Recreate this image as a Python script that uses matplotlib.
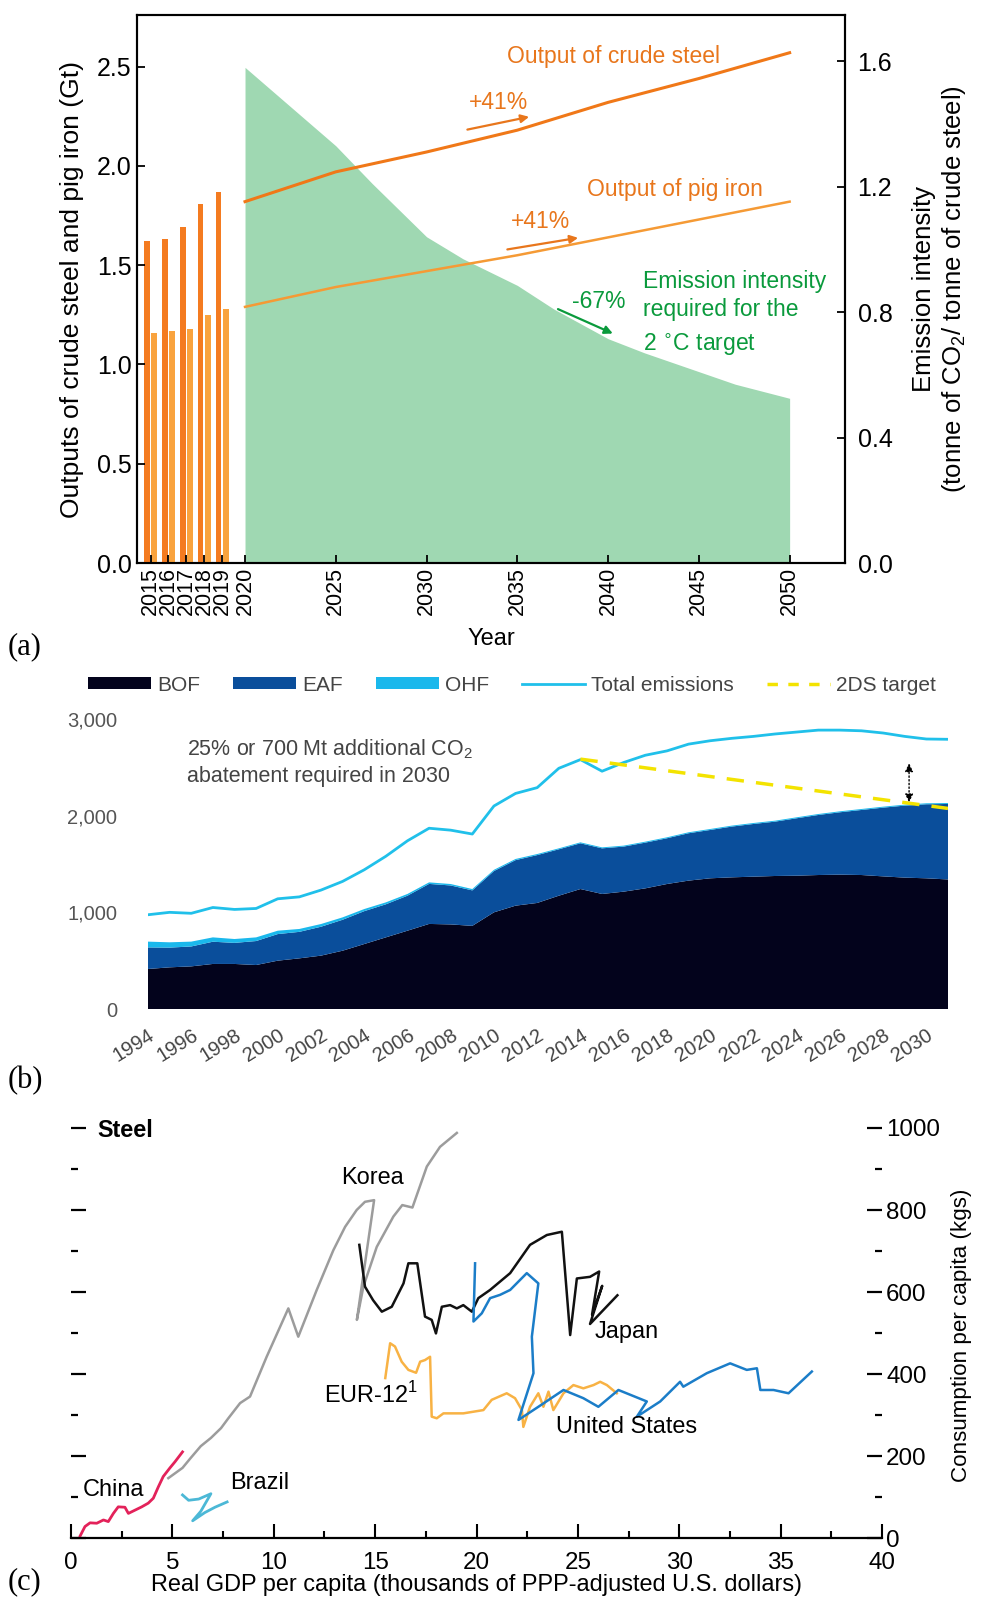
import numpy as np
import matplotlib
matplotlib.use('Agg')
import matplotlib.pyplot as plt
from matplotlib import font_manager
from matplotlib.patches import Patch
from matplotlib.lines import Line2D
from matplotlib.ticker import FuncFormatter

# fonts: condensed face for panel (c) if present
names = {f.name for f in font_manager.fontManager.ttflist}
SANS = 'Liberation Sans'
if 'Liberation Sans Narrow' in names:
    NARROW, nk = 'Liberation Sans Narrow', 1.0
else:
    NARROW, nk = 'Liberation Sans', 0.87
plt.rcParams['font.family'] = [SANS, 'DejaVu Sans']

# ---------------- panel (a) data ----------------
bar_years = [2015, 2016, 2017, 2018, 2019]
steel_hist = [1.62, 1.63, 1.69, 1.81, 1.87]
iron_hist = [1.16, 1.17, 1.18, 1.25, 1.28]
proj_years = [2020, 2025, 2030, 2035, 2040, 2045, 2050]
steel_proj = [1.82, 1.97, 2.07, 2.18, 2.32, 2.44, 2.57]
iron_proj = [1.29, 1.39, 1.47, 1.55, 1.64, 1.73, 1.82]
int_years = [2020, 2022, 2025, 2027, 2030, 2032, 2035, 2037, 2040, 2042, 2045, 2047, 2050]
intensity = [1.58, 1.48, 1.33, 1.21, 1.04, 0.97, 0.885, 0.81, 0.715, 0.67, 0.61, 0.57, 0.525]

# ---------------- panel (b) data ----------------
years_b = list(range(1994, 2032))
bof = [414, 431, 441, 466, 466, 455, 500, 524, 552, 603, 672, 741, 810, 880, 875, 860,
       1000, 1069, 1097, 1172, 1241, 1190, 1214, 1248, 1293, 1328, 1352, 1362, 1369, 1376,
       1379, 1386, 1390, 1386, 1372, 1359, 1352, 1340]
eaf = [223, 204, 206, 230, 218, 248, 275, 274, 299, 320, 340, 342, 362, 414, 403, 367,
       427, 471, 495, 480, 473, 472, 466, 473, 473, 490, 500, 525, 545, 562,
       594, 621, 645, 673, 711, 745, 766, 781]
ohf = [60, 55, 50, 45, 40, 38, 35, 30, 28, 25, 22, 20, 18, 16, 15, 14,
       13, 12, 11, 10, 10, 10, 10, 10, 10, 10, 10, 10, 10, 10,
       10, 10, 10, 10, 10, 10, 10, 10]
total = [975, 1000, 990, 1050, 1030, 1040, 1140, 1160, 1230, 1320, 1440, 1580, 1740, 1870, 1850, 1810,
         2100, 2230, 2290, 2490, 2580, 2460, 2550, 2625, 2670, 2740, 2775, 2800, 2820, 2845,
         2865, 2885, 2885, 2878, 2855, 2820, 2793, 2790]
tds_years = [2014, 2031]
tds_vals = [2585, 2075]
b_labels = ['BOF', 'EAF', 'OHF', 'Total emissions', '2DS target']

# ---------------- panel (c) data ----------------
china_x = [0.45, 0.69, 0.94, 1.27, 1.6, 1.84, 2.09, 2.33, 2.66, 2.83, 3.16, 3.49, 3.81, 4.06, 4.31, 4.55, 4.88, 5.13, 5.5]
china_y = [5, 28, 37, 36, 44, 40, 60, 76, 75, 60, 68, 76, 85, 97, 125, 150, 171, 186, 210]
brazil_x = [5.5, 5.8, 6.3, 6.9, 6.4, 6.0, 6.6, 7.1, 7.7]
brazil_y = [105, 92, 95, 108, 65, 42, 62, 75, 88]
korea_x = [4.8, 5.5, 5.9, 6.4, 6.9, 7.4, 7.76, 8.34, 8.83, 9.65, 10.72, 11.21, 12.12, 12.94, 13.52,
           14.09, 14.5, 14.95, 14.1, 14.42, 15.08, 15.9, 16.34, 16.84, 17.55, 18.2, 19.03]
korea_y = [146, 171, 195, 224, 244, 268, 292, 329, 345, 442, 560, 491, 605, 702, 759,
           800, 820, 824, 532, 613, 710, 784, 812, 806, 906, 954, 988]
japan_x = [14.22, 14.5, 14.9, 15.33, 15.82, 16.4, 16.64, 17.08, 17.46, 17.79, 18.0, 18.29, 18.7, 19.03,
           19.35, 19.77, 20.09, 20.67, 21.66, 22.64, 23.47, 24.21, 24.62, 24.95, 25.6, 26.05, 25.7,
           26.2, 25.6, 26.95]
japan_y = [715, 613, 580, 552, 564, 621, 670, 670, 540, 532, 499, 564, 568, 560,
           568, 552, 585, 605, 646, 715, 739, 747, 495, 633, 637, 650, 545,
           615, 522, 592]
us_x = [19.93, 19.85, 20.26, 20.67, 21.16, 21.66, 22.48, 23.05, 22.73, 22.81, 22.07, 23.05, 24.29, 25.27,
        26.01, 27.0, 28.4, 27.91, 29.06, 30.04, 30.2, 31.36, 32.51, 33.33, 33.83, 34.0, 34.65, 35.39, 36.54]
us_y = [670, 528, 548, 585, 593, 605, 646, 621, 491, 402, 288, 320, 361, 341,
        320, 361, 333, 296, 333, 381, 369, 402, 426, 410, 414, 361, 361, 353, 406]
eur_x = [15.5, 15.74, 15.98, 16.31, 16.64, 17.02, 17.22, 17.46, 17.71, 17.79, 18.04, 18.37, 19.35, 20.34,
         20.75, 21.49, 21.9, 22.24, 22.31, 22.64, 23.05, 23.3, 23.55, 23.79, 24.29, 24.78, 25.27, 25.77,
         26.1, 26.43, 26.92]
eur_y = [390, 475, 467, 430, 410, 403, 430, 434, 442, 296, 292, 304, 304, 312,
         337, 353, 341, 312, 271, 320, 353, 320, 357, 312, 353, 373, 365, 373,
         381, 373, 353]

W, H = 982, 1610
fig = plt.figure(figsize=(W / 100, H / 100), dpi=100)


def box(l, t, r, b):
    return [l / W, 1 - b / H, (r - l) / W, (b - t) / H]


# ================= (a) =================
ax = fig.add_axes(box(137, 15, 845, 563))
ax2 = ax.twinx()
ax.set_zorder(ax2.get_zorder() + 1)
ax.patch.set_visible(False)

ax2.fill_between(int_years, intensity, color='#9fd8b2', lw=0)
pos = 2014.8 + 0.985 * np.arange(len(bar_years))
ax.bar(pos - 0.2, steel_hist, width=0.31, color='#f47b20')
ax.bar(pos + 0.2, iron_hist, width=0.31, color='#f9a33e')
ax.plot(proj_years, steel_proj, color='#f07818', lw=2.2)
ax.plot(proj_years, iron_proj, color='#f59a35', lw=1.8)

ax.set_xlim(2014.05, 2053.05)
ax.set_ylim(0, 2.76)
ax2.set_ylim(0, 1.747)
xt = list(pos) + [2020, 2025, 2030, 2035, 2040, 2045, 2050]
ax.set_xticks(xt)
ax.set_xticklabels([str(y) for y in bar_years] + ['2020', '2025', '2030', '2035', '2040', '2045', '2050'],
                   rotation=90, fontsize=15.5)
ax.set_yticks([0, 0.5, 1.0, 1.5, 2.0, 2.5])
ax.set_yticklabels(['0.0', '0.5', '1.0', '1.5', '2.0', '2.5'], fontsize=18)
ax2.set_yticks([0, 0.4, 0.8, 1.2, 1.6])
ax2.set_yticklabels(['0.0', '0.4', '0.8', '1.2', '1.6'], fontsize=18)
ax.tick_params(direction='in', length=6, width=1.3, pad=4)
ax.tick_params(axis='x', pad=3)
ax2.tick_params(direction='in', length=6, width=1.3, pad=9)
for a in (ax, ax2):
    for s in a.spines.values():
        s.set_linewidth(1.5)
ax.set_ylabel('Outputs of crude steel and pig iron (Gt)', fontsize=19, labelpad=9)
ax2.set_ylabel('Emission intensity\n(tonne of CO$_\\mathregular{2}$/ tonne of crude steel)', fontsize=18.5,
               labelpad=14)
ax.set_xlabel('Year', fontsize=17, labelpad=9)

orange = '#e8761c'
fs_a = 16.5
ax.text(2040.3, 2.55, 'Output of crude steel', color=orange, fontsize=fs_a, ha='center', va='center')
ax.text(2043.7, 1.88, 'Output of pig iron', color=orange, fontsize=fs_a, ha='center', va='center')
ax.text(2033.95, 2.32, '+41%', color=orange, fontsize=fs_a, ha='center', va='center')
ax.text(2036.3, 1.72, '+41%', color=orange, fontsize=fs_a, ha='center', va='center')
ax.annotate('', xy=(2035.8, 2.25), xytext=(2032.1, 2.18),
            arrowprops=dict(arrowstyle='-|>', color=orange, lw=1.6, mutation_scale=12))
ax.annotate('', xy=(2038.5, 1.64), xytext=(2034.3, 1.577),
            arrowprops=dict(arrowstyle='-|>', color=orange, lw=1.6, mutation_scale=12))
green = '#0a9a3c'
k = 2.76 / 1.747  # right-axis units -> left-axis units
ax.text(2039.5, 0.833 * k, '-67%', color=green, fontsize=fs_a, ha='center', va='center')
ax.annotate('', xy=(2040.4, 0.728 * k), xytext=(2037.1, 0.813 * k),
            arrowprops=dict(arrowstyle='-|>', color=green, lw=1.6, mutation_scale=12))
ax.text(2041.9, 0.898 * k, 'Emission intensity', color=green, fontsize=fs_a, ha='left', va='center')
ax.text(2041.9, 0.807 * k, 'required for the', color=green, fontsize=fs_a, ha='left', va='center')
ax.text(2041.9, 0.695 * k, '2 $^{\\circ}$C target', color=green, fontsize=fs_a, ha='left', va='center')

# ================= (b) =================
bx = fig.add_axes(box(148, 719, 948, 1009))
c_bof, c_eaf, c_ohf = '#03031c', '#0a4e9b', '#1ab8ec'
bx.stackplot(years_b, bof, eaf, ohf, colors=[c_bof, c_eaf, c_ohf], lw=0)
bx.plot(years_b, total, color='#20c0ea', lw=2)
bx.plot(tds_years, tds_vals, color='#f3e300', lw=2.5, ls=(0, (5, 3.5)))
bx.annotate('', xy=(2029.2, 2110), xytext=(2029.2, 2570),
            arrowprops=dict(arrowstyle='<|-|>', color='black', lw=1, ls=':', mutation_scale=12))
bx.set_xlim(1994, 2031)
bx.set_ylim(0, 3000)
for s in bx.spines.values():
    s.set_visible(False)
bx.set_yticks([0, 1000, 2000, 3000])
bx.yaxis.set_major_formatter(FuncFormatter(lambda v, p: f'{v:,.0f}'))
bx.tick_params(axis='y', length=0, labelsize=14.5, labelcolor='#555555', pad=22)
bx.set_xticks(list(range(1994, 2031, 2)))
bx.tick_params(axis='x', length=0, labelsize=14.5, labelcolor='#444444', pad=12)
for lab in bx.get_xticklabels():
    lab.set_rotation(32)
    lab.set_ha('right')
    lab.set_rotation_mode('anchor')
bx.text(1995.8, 2690, '25% or 700 Mt additional CO$_\\mathregular{2}$', fontsize=15.5, color='#444444', va='center')
bx.text(1995.8, 2410, 'abatement required in 2030', fontsize=15.5, color='#444444', va='center')
handles = [Patch(fc=c_bof), Patch(fc=c_eaf), Patch(fc=c_ohf),
           Line2D([], [], color='#20c0ea', lw=2),
           Line2D([], [], color='#f3e300', lw=2.5, ls=(0, (3, 3)))]
fig.legend(handles, b_labels, ncol=5, loc='center', bbox_to_anchor=(512 / W, 1 - 685 / H),
           frameon=False, fontsize=15, handlelength=3.0, handleheight=0.55,
           columnspacing=1.6, handletextpad=0.3, labelcolor='#444444')

# ================= (c) =================
cx = fig.add_axes(box(71, 1128, 882, 1538))
cx.plot(korea_x, korea_y, color='#9c9c9c', lw=1.8)
cx.plot(china_x, china_y, color='#e3225a', lw=2.0)
cx.plot(brazil_x, brazil_y, color='#4cb8d6', lw=2.0)
cx.plot(eur_x, eur_y, color='#f8b244', lw=1.8)
cx.plot(japan_x, japan_y, color='#111111', lw=1.8)
cx.plot(us_x, us_y, color='#1b7dc8', lw=1.8)
cx.set_xlim(0, 40)
cx.set_ylim(0, 1000)
for s in ['top', 'left', 'right']:
    cx.spines[s].set_visible(False)
cx.spines['bottom'].set_linewidth(1.6)
cx.set_xticks(list(range(0, 41, 5)))
cx.set_xticks([2.5 + 5 * i for i in range(8)], minor=True)
cx.set_xticklabels([str(v) for v in range(0, 41, 5)], family=NARROW, fontsize=20 * nk)
cx.set_yticks(list(range(0, 1001, 200)))
cx.set_yticks(list(range(100, 1000, 200)), minor=True)
cx.set_yticklabels([str(v) for v in range(0, 1001, 200)], family=NARROW, fontsize=20 * nk)
cx.get_yticklabels()[0].set_va('bottom')
cx.tick_params(axis='x', which='major', direction='in', length=10, width=1.5, pad=10)
cx.tick_params(axis='x', which='minor', direction='in', length=5, width=1.5)
cx.tick_params(axis='y', which='both', direction='in', left=True, right=True,
               labelleft=False, labelright=True, width=1.6)
cx.tick_params(axis='y', which='major', length=11, pad=3)
cx.tick_params(axis='y', which='minor', length=5)
cx.yaxis.set_label_position('right')
cx.set_ylabel('Consumption per capita (kgs)', family=NARROW, fontsize=18.5 * nk)
cx.yaxis.set_label_coords(1.085, 0.495)
cx.set_xlabel('Real GDP per capita (thousands of PPP-adjusted U.S. dollars)', family=NARROW,
              fontsize=19.5 * nk, labelpad=0)
lab_kw = dict(family=NARROW, fontsize=19.5 * nk, ha='center', va='center')
cx.text(14.87, 878, 'Korea', **lab_kw)
cx.text(27.4, 502, 'Japan', **lab_kw)
cx.text(14.8, 349, 'EUR-12$^{\\mathregular{1}}$', **lab_kw)
cx.text(27.4, 271, 'United States', **lab_kw)
cx.text(2.09, 117, 'China', **lab_kw)
cx.text(9.3, 134, 'Brazil', **lab_kw)
cx.text(1.28, 995, 'Steel', family=NARROW, fontsize=19.5 * nk, fontweight='bold', ha='left', va='center')

# panel letters
for s, y in [('(a)', 647), ('(b)', 1081), ('(c)', 1582)]:
    fig.text(8 / W, 1 - y / H, s, family='Liberation Serif', fontsize=22, ha='left', va='center')

fig.savefig('out.png', dpi=100, facecolor='white')
